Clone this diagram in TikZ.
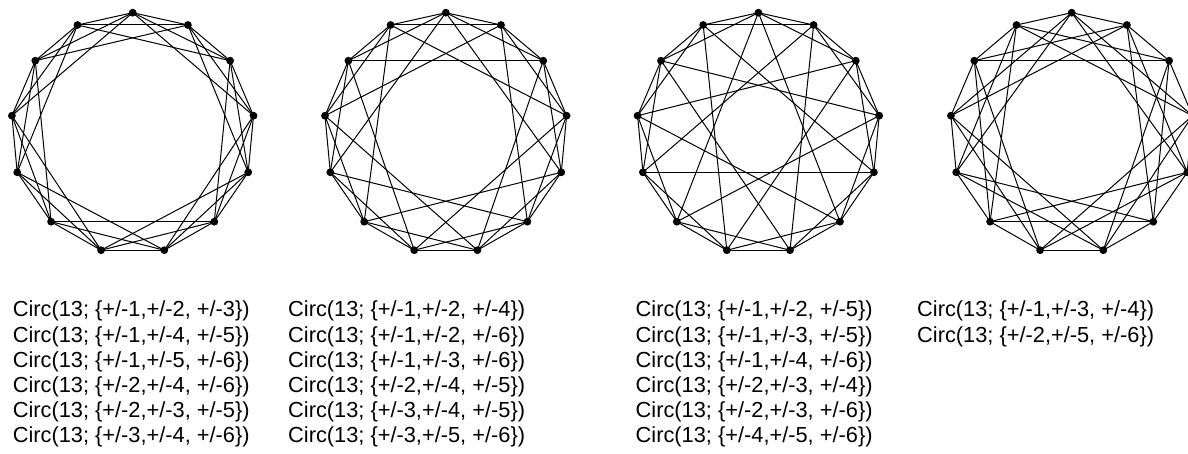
\documentclass[tikz,border=0pt]{standalone}
\usepackage{fontspec}
\setmainfont{Liberation Sans}
\newcommand\circlab[3]{Circ(13; \{+/-#1,+/-#2, +/-#3\})}
\begin{document}
\begin{tikzpicture}[x=1pt,y=-1pt,
  vdot/.style={circle,fill=black,inner sep=0pt,minimum size=7.8pt},
  edge/.style={line width=1pt,black},
  lbl/.style={anchor=base west,inner sep=0pt,font=\fontsize{21.8}{25}\selectfont}]
\useasboundingbox (0,0) rectangle (1188,454);
\clip (0,0) rectangle (1188,454);
\foreach \g/\gx/\steps in {1/132.7/{1,2,3},2/445.8/{1,2,4},3/758.4/{1,2,5},4/1071.7/{1,3,4}} {
  \foreach \k/\dx/\dy in {0/0/0,1/55.2/12.3,2/97.4/48,3/120.8/103,4/115.5/159.6,5/81.6/209,6/31.6/237.5,7/-31.6/237.5,8/-81.6/209,9/-115.5/159.6,10/-120.8/103,11/-97.4/48,12/-55.2/12.3} {
    \node[vdot] (g\g-\k) at (\gx+\dx,12.7+\dy) {};
  }
  \foreach \s in \steps {
    \foreach \i in {0,...,12} {
      \pgfmathtruncatemacro\j{mod(\i+\s,13)}
      \draw[edge] (g\g-\i.center) -- (g\g-\j.center);
    }
  }
}
% column 1
\node[lbl] (a1) at (12.6,316.8) {\circlab{1}{2}{3}};
\node[lbl] (a2) at (12.6,342.0) {\circlab{1}{4}{5}};
\node[lbl] (a3) at (12.6,367.2) {\circlab{1}{5}{6}};
\node[lbl] (a4) at (12.6,392.4) {\circlab{2}{4}{6}};
\node[lbl] (a5) at (12.6,417.6) {\circlab{2}{3}{5}};
\node[lbl] (a6) at (12.6,442.8) {\circlab{3}{4}{6}};
% column 2
\node[lbl] (b1) at (288,316.8) {\circlab{1}{2}{4}};
\node[lbl] (b2) at (288,342.0) {\circlab{1}{2}{6}};
\node[lbl] (b3) at (288,367.2) {\circlab{1}{3}{6}};
\node[lbl] (b4) at (288,392.4) {\circlab{2}{4}{5}};
\node[lbl] (b5) at (288,417.6) {\circlab{3}{4}{5}};
\node[lbl] (b6) at (288,442.8) {\circlab{3}{5}{6}};
% column 3
\node[lbl] (c1) at (635.5,316.8) {\circlab{1}{2}{5}};
\node[lbl] (c2) at (635.5,342.0) {\circlab{1}{3}{5}};
\node[lbl] (c3) at (635.5,367.2) {\circlab{1}{4}{6}};
\node[lbl] (c4) at (635.5,392.4) {\circlab{2}{3}{4}};
\node[lbl] (c5) at (635.5,417.6) {\circlab{2}{3}{6}};
\node[lbl] (c6) at (635.5,442.8) {\circlab{4}{5}{6}};
% column 4
\node[lbl] (d1) at (917,316.8) {\circlab{1}{3}{4}};
\node[lbl] (d2) at (917,342.0) {\circlab{2}{5}{6}};
\end{tikzpicture}
\end{document}
